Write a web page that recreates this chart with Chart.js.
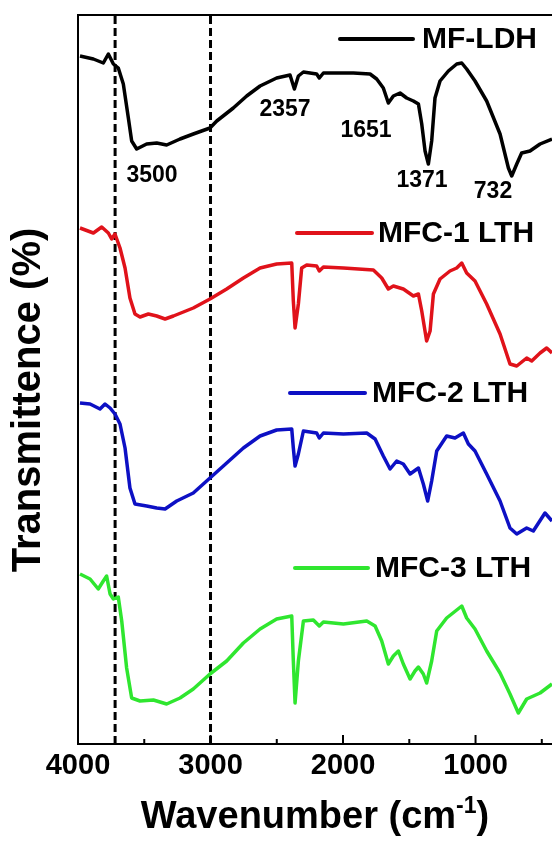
<!DOCTYPE html>
<html lang="en">
<head>
  <meta charset="UTF-8" />
  <title>FTIR - MF-LDH / MFC LTH</title>
  <script src="https://cdn.jsdelivr.net/npm/chart.js"></script>
  <style>
    body { margin: 0; background: #ffffff; }
    #wrap { width: 552px; height: 841px; }
  </style>
</head>
<body>
  <div id="wrap"><canvas id="ftir" width="552" height="841"></canvas></div>

  <script>
    // wavenumber (cm-1) and stacked transmittance (arb. units)
    const ldhWn = [3985,3884,3809,3771,3733,3696,3658,3620,3595,3557,3482,3406,3331,3230,3130,3004,2953,2828,2727,2626,2501,2400,2367,2337,2299,2199,2179,2148,1922,1796,1746,1696,1658,1620,1570,1520,1469,1431,1406,1381,1356,1331,1306,1268,1205,1142,1104,1067,1004,916,815,752,727,689,652,589,513,423];
    const ldhT  = [688,685,681,690,680,676,660,626,603,595,600,601,599,605,610,616,623,636,648,658,666,669,655,668,672,670,666,671,671,670,665,656,641,648,651,646,643,640,620,593,580,603,646,663,673,680,681,675,663,643,610,576,568,580,591,593,600,605];

    const mfc1Wn = [3985,3884,3821,3771,3746,3721,3683,3645,3608,3570,3532,3469,3406,3343,3280,3130,3004,2878,2752,2626,2501,2387,2375,2362,2337,2312,2274,2199,2179,2148,1997,1771,1708,1658,1620,1545,1469,1431,1406,1369,1343,1318,1268,1193,1142,1104,1067,1004,916,815,740,689,614,576,513,463,423];
    const mfc1T  = [516,511,517,511,505,510,496,476,446,430,427,430,428,425,428,436,445,455,466,476,480,481,443,416,440,476,479,478,473,477,476,474,466,455,458,455,448,450,433,403,413,450,465,473,476,481,471,463,440,410,380,378,386,383,391,396,391];

    const mfc2Wn = [3985,3909,3834,3796,3758,3721,3683,3645,3608,3570,3482,3406,3343,3255,3130,3004,2878,2752,2626,2501,2387,2375,2362,2337,2299,2199,2179,2148,1997,1821,1758,1696,1645,1595,1545,1494,1431,1394,1361,1331,1293,1218,1155,1092,1054,1004,916,815,740,689,614,564,476,423];
    const mfc2T  = [341,340,335,340,336,330,320,296,256,240,238,236,235,243,251,266,281,296,308,314,315,296,278,290,313,311,306,311,310,311,305,288,275,283,280,270,276,260,243,263,293,308,306,311,300,293,270,243,216,210,216,213,231,223];

    const mfc3Wn = [3985,3909,3847,3809,3784,3758,3733,3696,3670,3633,3595,3532,3431,3331,3230,3130,3004,2878,2752,2626,2501,2387,2375,2362,2337,2299,2224,2179,2148,1997,1821,1758,1708,1658,1620,1582,1545,1494,1457,1431,1394,1369,1331,1293,1218,1142,1104,1067,1004,916,815,740,677,614,513,423];
    const mfc3T  = [170,165,155,163,168,150,145,147,123,76,46,43,44,40,46,55,70,83,101,115,125,128,83,41,83,123,124,118,122,120,123,118,103,80,88,93,80,65,73,77,70,61,83,113,126,134,138,126,115,93,71,50,31,45,51,60];

    const seriesNames = ['MF-LDH', 'MFC-1 LTH', 'MFC-2 LTH', 'MFC-3 LTH'];
    const seriesColors = ['#000000', '#e0121a', '#0d10c4', '#2fe62f'];
    const guideLines = [3720, 3000];
    const peakLabels = ['3500', '2357', '1651', '1371', '732'];
    const xTickValues = [4000, 3500, 3000, 2500, 2000, 1500, 1000, 500];
    const xTickLabels = [4000, 3000, 2000, 1000];

    const FONT = "'Liberation Sans', Arial, sans-serif";

    function pairs(xs, ys) {
      return xs.map((x, i) => ({ x: x, y: ys[i] }));
    }

    const spectra = [
      pairs(ldhWn, ldhT),
      pairs(mfc1Wn, mfc1T),
      pairs(mfc2Wn, mfc2T),
      pairs(mfc3Wn, mfc3T)
    ];

    const datasets = spectra.map((d, i) => ({
      label: seriesNames[i],
      data: d,
      borderColor: seriesColors[i],
      borderWidth: 3.5,
      borderJoinStyle: 'round',
      pointRadius: 0,
      tension: 0
    }));

    guideLines.forEach(w => {
      datasets.push({
        label: 'guide',
        data: [{ x: w, y: 0 }, { x: w, y: 729 }],
        borderColor: '#000000',
        borderWidth: 3,
        borderDash: [8, 4],
        pointRadius: 0
      });
    });

    // text, legend, frame and inward ticks
    const decor = {
      id: 'decor',
      afterDraw(chart) {
        const { ctx, chartArea: a, scales: { x } } = chart;
        ctx.save();
        ctx.strokeStyle = '#000';
        ctx.lineWidth = 2;
        ctx.beginPath();
        ctx.moveTo(a.left, a.top);
        ctx.lineTo(a.right, a.top);
        ctx.stroke();

        xTickValues.forEach(v => {
          const px = x.getPixelForValue(v);
          if (px < a.left - 1 || px > a.right) return;
          const len = v % 1000 === 0 ? 9 : 5;
          ctx.beginPath();
          ctx.moveTo(px, a.bottom);
          ctx.lineTo(px, a.bottom - len);
          ctx.stroke();
        });

        // peak labels
        const peakPos = [[152, 176], [285, 110], [366, 131], [422, 181], [493, 192]];
        ctx.fillStyle = '#000';
        ctx.font = 'bold 23px ' + FONT;
        ctx.textAlign = 'center';
        ctx.textBaseline = 'middle';
        peakLabels.forEach((t, i) => ctx.fillText(t, peakPos[i][0], peakPos[i][1]));

        // legend entries beside each curve
        const legPos = [
          { y: 39, x0: 340, x1: 413, tx: 422 },
          { y: 233, x0: 297, x1: 372, tx: 378 },
          { y: 393, x0: 290, x1: 365, tx: 372 },
          { y: 568, x0: 295, x1: 368, tx: 375 }
        ];
        ctx.font = 'bold 30px ' + FONT;
        ctx.textAlign = 'left';
        ctx.lineCap = 'round';
        legPos.forEach((p, i) => {
          ctx.strokeStyle = seriesColors[i];
          ctx.lineWidth = 4;
          ctx.beginPath();
          ctx.moveTo(p.x0, p.y);
          ctx.lineTo(p.x1, p.y);
          ctx.stroke();
          ctx.fillText(seriesNames[i], p.tx, p.y + 1);
        });

        // y title
        ctx.save();
        ctx.translate(29, 400);
        ctx.rotate(-Math.PI / 2);
        ctx.font = 'bold 40px ' + FONT;
        ctx.textAlign = 'center';
        ctx.fillText('Transmittence (%)', 0, 0);
        ctx.restore();

        // x title with superscript
        const main = 'Wavenumber (cm', sup = '-1', tail = ')';
        const cx = (a.left + a.right) / 2, base = 828;
        ctx.textBaseline = 'alphabetic';
        ctx.font = 'bold 38px ' + FONT;
        const w1 = ctx.measureText(main).width, w3 = ctx.measureText(tail).width;
        ctx.font = 'bold 23px ' + FONT;
        const w2 = ctx.measureText(sup).width;
        const sx = cx - (w1 + w2 + w3) / 2;
        ctx.font = 'bold 38px ' + FONT;
        ctx.fillText(main, sx, base);
        ctx.font = 'bold 23px ' + FONT;
        ctx.fillText(sup, sx + w1, base - 15);
        ctx.font = 'bold 38px ' + FONT;
        ctx.fillText(tail, sx + w1 + w2, base);
        ctx.restore();
      }
    };

    new Chart(document.getElementById('ftir').getContext('2d'), {
      type: 'line',
      data: { datasets: datasets },
      options: {
        responsive: false,
        animation: false,
        devicePixelRatio: 1,
        layout: { padding: { top: 15, left: 0, right: 0, bottom: 0 } },
        plugins: {
          legend: { display: false },
          tooltip: { enabled: false }
        },
        scales: {
          x: {
            type: 'linear',
            reverse: true,
            min: 423,
            max: 4000,
            afterBuildTicks: s => { s.ticks = xTickValues.map(v => ({ value: v })); },
            afterFit: s => { s.height = 97; },
            grid: { display: false, drawTicks: false },
            border: { display: true, color: '#000', width: 2 },
            ticks: {
              autoSkip: false,
              maxRotation: 0,
              padding: 5,
              color: '#000',
              font: { family: FONT, size: 29, weight: 'bold' },
              callback: v => xTickLabels.includes(v) ? String(v) : ''
            }
          },
          y: {
            min: 0,
            max: 729,
            afterFit: s => { s.width = 78; },
            grid: { display: false, drawTicks: false },
            border: { display: true, color: '#000', width: 2 },
            ticks: { display: false }
          }
        }
      },
      plugins: [decor]
    });
  </script>
</body>
</html>
